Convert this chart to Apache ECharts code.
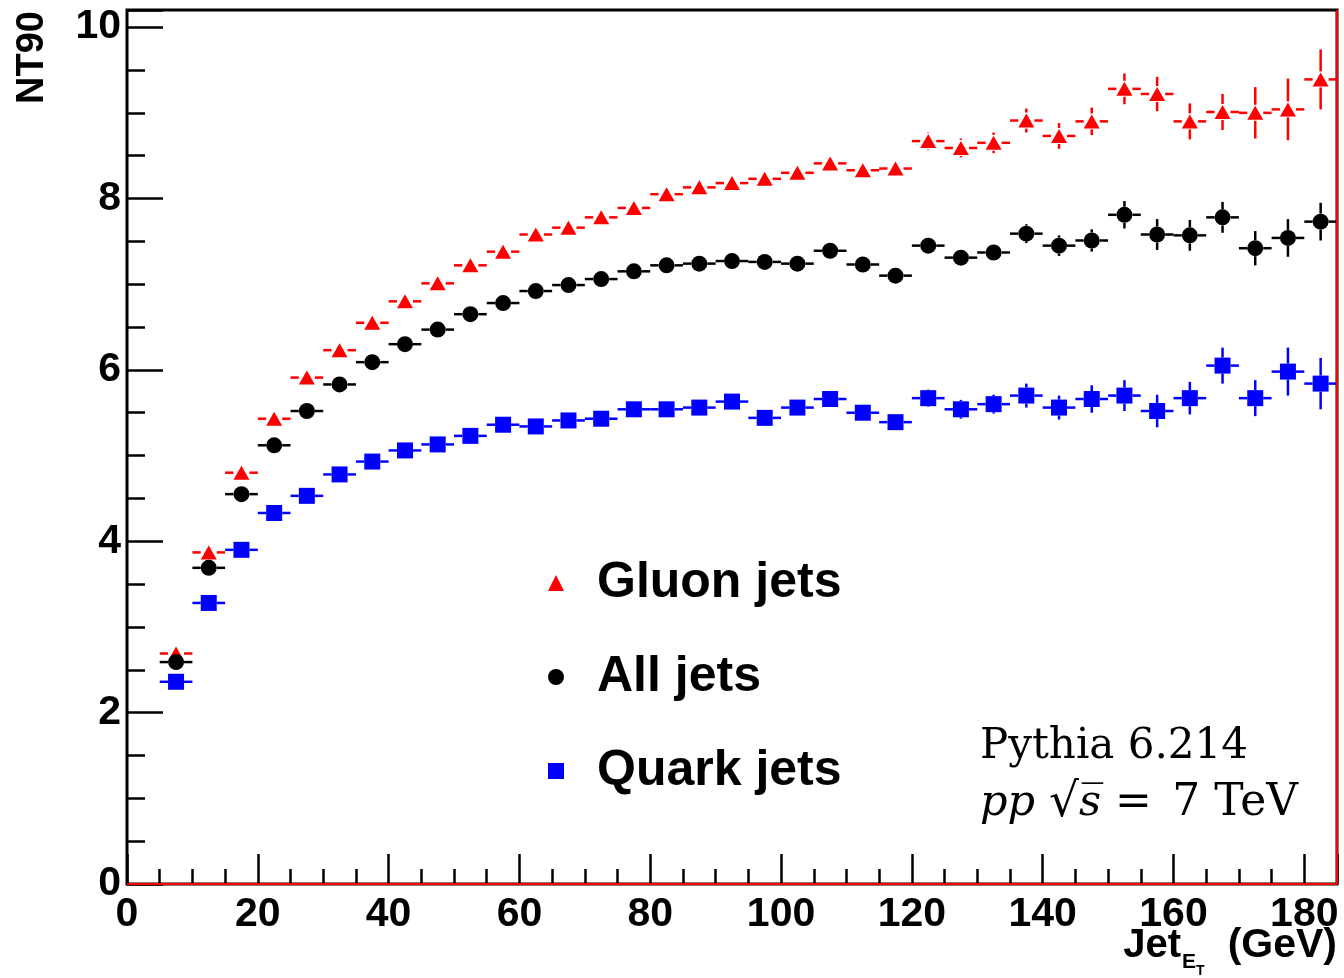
<!DOCTYPE html>
<html>
<head>
<meta charset="utf-8">
<script src="https://cdn.jsdelivr.net/npm/echarts@6/dist/echarts.min.js"></script>
<style>
html,body{margin:0;padding:0;background:#fff;}
#chart{width:1344px;height:978px;}
</style>
</head>
<body>
<div id="chart"></div>
<script>
// ---- data ----
const binCenters = [7.5,12.5,17.5,22.5,27.5,32.5,37.5,42.5,47.5,52.5,57.5,62.5,67.5,72.5,77.5,82.5,87.5,92.5,97.5,102.5,107.5,112.5,117.5,122.5,127.5,132.5,137.5,142.5,147.5,152.5,157.5,162.5,167.5,172.5,177.5,182.5];
const binHalfWidth = 2.5;
const gluon = [2.69,3.87,4.80,5.43,5.91,6.23,6.55,6.80,7.01,7.22,7.38,7.58,7.66,7.78,7.89,8.05,8.13,8.18,8.23,8.30,8.41,8.33,8.35,8.67,8.59,8.65,8.91,8.73,8.90,9.28,9.22,8.90,9.01,9.00,9.04,9.39];
const gluonErr = [0.03,0.03,0.03,0.03,0.03,0.03,0.03,0.03,0.03,0.04,0.04,0.04,0.04,0.04,0.05,0.05,0.05,0.05,0.06,0.06,0.06,0.07,0.07,0.10,0.11,0.12,0.14,0.15,0.16,0.18,0.20,0.21,0.21,0.30,0.36,0.35];
const allJets = [2.59,3.69,4.55,5.12,5.52,5.83,6.09,6.30,6.47,6.65,6.78,6.92,6.99,7.06,7.15,7.22,7.24,7.27,7.26,7.24,7.39,7.23,7.10,7.45,7.31,7.37,7.59,7.45,7.51,7.81,7.58,7.57,7.78,7.42,7.54,7.73];
const allErr = [0.02,0.02,0.02,0.02,0.02,0.02,0.02,0.03,0.03,0.03,0.03,0.03,0.03,0.03,0.04,0.04,0.04,0.04,0.04,0.05,0.05,0.05,0.05,0.06,0.07,0.08,0.11,0.12,0.13,0.16,0.18,0.18,0.18,0.20,0.22,0.22];
const quark = [2.36,3.28,3.90,4.33,4.53,4.78,4.93,5.06,5.13,5.23,5.36,5.34,5.41,5.43,5.54,5.54,5.56,5.63,5.44,5.56,5.66,5.50,5.39,5.67,5.54,5.60,5.70,5.56,5.66,5.70,5.52,5.67,6.05,5.67,5.98,5.84];
const quarkErr = [0.02,0.02,0.02,0.03,0.03,0.03,0.03,0.03,0.03,0.04,0.04,0.04,0.04,0.04,0.05,0.05,0.05,0.06,0.06,0.06,0.07,0.07,0.08,0.10,0.11,0.11,0.14,0.14,0.16,0.18,0.19,0.19,0.21,0.21,0.28,0.30];
const seriesNames = ['Gluon jets','All jets','Quark jets'];
const xTitle = {main:'Jet', sub:'E', subsub:'T', unit:'(GeV)'};
const yTitle = 'NT90';
const noteLine1 = 'Pythia 6.214';

const RED = '#ff0000', BLACK = '#000000', BLUE = '#0000ff';
const sansFont = "'Liberation Sans', Arial, Helvetica, sans-serif";
const serifFont = "'DejaVu Serif', serif";

function triples(vals, errs){ return binCenters.map((x,i)=>[x, vals[i], errs[i]]); }

function errRender(color){
  const gap = 8;
  return function(params, api){
    const x = api.value(0), y = api.value(1), e = api.value(2);
    const c = api.coord([x, y]);
    const l = api.coord([x - binHalfWidth, y]);
    const r = api.coord([x + binHalfWidth, y]);
    const t = api.coord([x, y + e]);
    const b = api.coord([x, y - e]);
    const style = {stroke: color, lineWidth: 2.5};
    const ch = [
      {type:'line', shape:{x1:l[0], y1:c[1], x2:c[0]-gap, y2:c[1]}, style},
      {type:'line', shape:{x1:c[0]+gap, y1:c[1], x2:r[0], y2:c[1]}, style}
    ];
    if (c[1]-t[1] > gap){
      ch.push({type:'line', shape:{x1:c[0], y1:t[1], x2:c[0], y2:c[1]-gap}, style});
      ch.push({type:'line', shape:{x1:c[0], y1:c[1]+gap, x2:c[0], y2:b[1]}, style});
    }
    return {type:'group', children: ch};
  };
}

const chart = echarts.init(document.getElementById('chart'), null, {renderer:'canvas'});
const hideNonMajor = (step) => (v) => (Math.abs(v/step - Math.round(v/step)) < 1e-6 ? String(Math.round(v)) : '');

const option = {
  animation: false,
  backgroundColor: '#fff',
  grid: {left:127, right:7, top:10, bottom:94, outerBoundsMode:'none', containLabel:false, show:true, borderColor:'#000', borderWidth:3, backgroundColor:'transparent'},
  xAxis: [
    {type:'value', min:0, max:185, interval:20, position:'bottom',
     axisLine:{show:false}, splitLine:{show:false},
     axisTick:{show:true, inside:true, length:30, lineStyle:{color:'#000', width:2.5}},
     axisLabel:{show:true, margin:10, formatter: hideNonMajor(20), color:'#000', fontSize:41, fontWeight:'bold', fontFamily: sansFont}},
    {type:'value', min:0, max:185, interval:5, position:'bottom',
     axisLine:{show:false}, splitLine:{show:false}, axisLabel:{show:false},
     axisTick:{show:true, inside:true, length:15, lineStyle:{color:'#000', width:2.5}}}
  ],
  yAxis: [
    {type:'value', min:0, max:10.2, interval:2, position:'left',
     axisLine:{show:false}, splitLine:{show:false},
     axisTick:{show:true, inside:true, length:36, lineStyle:{color:'#000', width:2.5}},
     axisLabel:{show:true, margin:6, formatter: hideNonMajor(2), color:'#000', fontSize:41, fontWeight:'bold', fontFamily: sansFont}},
    {type:'value', min:0, max:10.2, interval:0.5, position:'left',
     axisLine:{show:false}, splitLine:{show:false}, axisLabel:{show:false},
     axisTick:{show:true, inside:true, length:18, lineStyle:{color:'#000', width:2.5}}}
  ],
  legend: {
    show:true, orient:'vertical', left:543, top:550, itemWidth:16, itemHeight:16, itemGap:38,
    selectedMode:false,
    data:[{name:seriesNames[0], icon:'triangle'},{name:seriesNames[1], icon:'circle'},{name:seriesNames[2], icon:'rect'}],
    textStyle:{fontSize:50, fontWeight:'bold', color:'#000', fontFamily:sansFont, lineHeight:56, padding:[0,0,0,28]}
  },
  series: [
    {name:'gluonErr', type:'custom', xAxisIndex:0, yAxisIndex:0, renderItem: errRender(RED), data: triples(gluon, gluonErr), z:2, silent:true},
    {name:'allErr', type:'custom', xAxisIndex:0, yAxisIndex:0, renderItem: errRender(BLACK), data: triples(allJets, allErr), z:2, silent:true},
    {name:'quarkErr', type:'custom', xAxisIndex:0, yAxisIndex:0, renderItem: errRender(BLUE), data: triples(quark, quarkErr), z:2, silent:true},
    {name:seriesNames[0], type:'scatter', symbol:'triangle', symbolSize:[16,14], itemStyle:{color:RED, opacity:1}, z:3,
     data: binCenters.map((x,i)=>[x, gluon[i]]),
     markLine:{silent:true, symbol:'none', label:{show:false}, lineStyle:{color:RED, width:2, type:'solid', opacity:1}, data:[{yAxis:0},{xAxis:185}]}},
    {name:seriesNames[1], type:'scatter', symbol:'circle', symbolSize:16, itemStyle:{color:BLACK, opacity:1}, z:3,
     data: binCenters.map((x,i)=>[x, allJets[i]])},
    {name:seriesNames[2], type:'scatter', symbol:'rect', symbolSize:16, itemStyle:{color:BLUE, opacity:1}, z:3,
     data: binCenters.map((x,i)=>[x, quark[i]])}
  ],
  graphic: [
    {type:'text', x:33, y:11, rotation:Math.PI/2, z:10,
     style:{text:yTitle, fill:'#000', font:"bold 38px " + sansFont, align:'right', verticalAlign:'middle'}},
    {type:'text', x:1181, y:946, z:10,
     style:{text:xTitle.main, fill:'#000', font:"bold 40px " + sansFont, align:'right', verticalAlign:'middle'}},
    {type:'text', x:1182, y:962, z:10,
     style:{text:xTitle.sub, fill:'#000', font:"bold 21px " + sansFont, align:'left', verticalAlign:'middle'}},
    {type:'text', x:1196, y:971, z:10,
     style:{text:xTitle.subsub, fill:'#000', font:"bold 14px " + sansFont, align:'left', verticalAlign:'middle'}},
    {type:'text', x:1337, y:946, z:10,
     style:{text:xTitle.unit, fill:'#000', font:"bold 41px " + sansFont, align:'right', verticalAlign:'middle'}},
    {type:'text', x:980, y:747, z:10,
     style:{text:noteLine1, fill:'#000', font:"42px " + serifFont, align:'left', verticalAlign:'middle'}},
    {type:'text', x:980, y:804, z:10,
     style:{text:'{i|pp}{sp| }{q|\u221A}{i|s\u0305}{sp| }{r|=}{sp2| }{r|7}{sp| }{r|TeV}', fill:'#000', font:"44px " + serifFont, align:'left', verticalAlign:'middle',
       rich:{i:{fontFamily:serifFont, fontStyle:'italic', fontSize:43, color:'#000'},
             q:{fontFamily:serifFont, fontSize:47, color:'#000'},
             r:{fontFamily:serifFont, fontSize:44, color:'#000'},
             sp:{fontFamily:serifFont, fontSize:44, color:'#000'},
             sp2:{fontFamily:serifFont, fontSize:64, color:'#000'}}}}
  ]
};
chart.setOption(option);
</script>
</body>
</html>
